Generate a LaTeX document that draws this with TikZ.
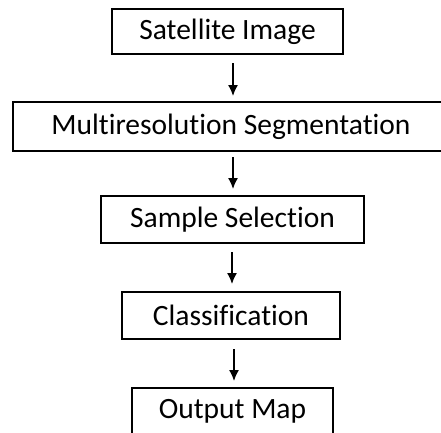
\documentclass[tikz,border=0pt]{standalone}
\usepackage{fontspec}
\setmainfont{Carlito}[Ligatures=NoCommon]
\usetikzlibrary{arrows.meta,positioning}

\begin{document}
\begin{tikzpicture}[on grid,node distance=95pt,
	box/.style={draw,line width=1.3pt,inner sep=0pt,font=\fontsize{29.5}{34}\selectfont},
	flow/.style={line width=1.5pt,-{Latex[length=11pt,width=10pt]}}]
	\useasboundingbox (0pt,0pt) rectangle (441pt,-432pt);
	\node[box,minimum width=231pt,minimum height=45pt] (sat) at (227.5pt,-31.5pt) {Satellite Image};
	\node[box,minimum width=436pt,minimum height=49pt,below=95pt of sat,xshift=3.5pt] (multi) {Multiresolution Segmentation};
	\node[box,minimum width=263pt,minimum height=47pt,below=93pt of multi,xshift=1.5pt] (sample) {Sample Selection};
	\node[box,minimum width=218pt,minimum height=47pt,below=96pt of sample,xshift=-1.5pt] (class) {Classification};
	\node[box,minimum width=201pt,minimum height=47pt,below=96pt of class,xshift=1.5pt] (output) {Output Map};
	% arrow ends between the boxes
	\coordinate (a1) at (233pt,-63pt);  \coordinate (b1) at (233pt,-96pt);
	\coordinate (a2) at (233pt,-157pt); \coordinate (b2) at (233pt,-189pt);
	\coordinate (a3) at (232pt,-252pt); \coordinate (b3) at (232pt,-284pt);
	\coordinate (a4) at (234pt,-349pt); \coordinate (b4) at (234pt,-381pt);
	\draw[flow] (a1) -- (b1);
	\draw[flow] (a2) -- (b2);
	\draw[flow] (a3) -- (b3);
	\draw[flow] (a4) -- (b4);
\end{tikzpicture}
\end{document}
